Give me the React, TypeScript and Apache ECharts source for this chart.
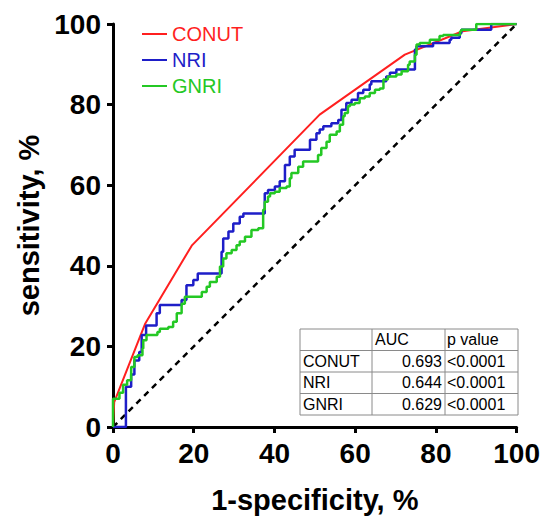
import React, { useEffect, useRef } from "react";
import * as echarts from "echarts";

const seriesNames = ["CONUT", "NRI", "GNRI"];
const seriesColors = ["#ff1f1f", "#1e1ec8", "#24c824"];

const conutPoints: [number, number][] = [
  [0, 0], [0.3, 6.2], [8, 25.7], [19.5, 45], [51.2, 77.5], [72.3, 92.4], [86.6, 98.2], [100, 100],
];

const nriPoints: [number, number][] = [
  [0, 0], [3.2, 0], [3.2, 7.6], [4.5, 10], [5.3, 13], [6.5, 16.5], [7.1, 18.6], [8.2, 22.8], [8.2, 25.2],
  [10.8, 25.2], [11.6, 28.2], [11.6, 30.3], [17, 30.3], [18.2, 31.5], [19.9, 35.2], [21, 36.5], [22.8, 38.1],
  [26.9, 38.1], [27.3, 43.5], [28.6, 46.8], [29.8, 48.5], [31.4, 50.5], [32.3, 52.2], [34.7, 53], [37.6, 53],
  [38.4, 58], [40.1, 58.8], [41.3, 59.7], [42.6, 61], [43.8, 65], [45, 67.1], [46.7, 68.8], [48.8, 68.8],
  [50.4, 71.3], [51.2, 72.9], [52.1, 73.8], [54.1, 74.6], [55.8, 75.4], [56.6, 76.2], [57.8, 78.7],
  [59.1, 80.4], [60.7, 81.2], [62, 82.9], [63.6, 83.7], [64, 85], [66.1, 85.8], [67.7, 85.8], [68.6, 87],
  [70.2, 87.9], [71.5, 88.7], [74.8, 88.7], [75.2, 93.7], [76.4, 94.5], [79.3, 94.5], [80.1, 95.3],
  [83.4, 95.3], [83.8, 96.1], [85.9, 96.6], [86.3, 97.7], [89.2, 98.6], [93.7, 98.6], [94.1, 100], [100, 100],
];

const gnriPoints: [number, number][] = [
  [0, 0], [0, 6.8], [1.6, 7], [2.5, 8.5], [3.5, 10.5], [4.5, 11.6], [5.3, 14.9], [6.1, 17.4], [7.3, 17.8],
  [7.5, 19.5], [8.3, 21.5], [9.6, 22.8], [11, 22.8], [11.6, 23.6], [13.7, 24.4], [14.9, 24.8], [15.8, 26.1],
  [17, 28.2], [17.8, 30.6], [18.2, 32.3], [22, 32.3], [23.2, 33.5], [24, 34.8], [25.7, 36], [26.5, 37.3],
  [27.3, 39.8], [28.1, 41.8], [29.4, 43.1], [30.6, 43.9], [31.4, 45.1], [32.7, 46], [34.3, 47.2], [36, 48.9],
  [37.2, 49.3], [37.6, 53.9], [38.4, 55.9], [38.9, 57.2], [40.1, 58], [41.3, 58.4], [43, 59.3], [43.8, 59.7],
  [44.2, 61.7], [45.9, 63], [47.1, 64.6], [47.5, 65.9], [50.8, 65.9], [51.6, 67.5], [52.9, 69.2],
  [53.7, 70.8], [55.4, 72.5], [56.2, 73.3], [57, 75], [57.4, 77.1], [58.2, 77.9], [58.7, 79.6], [59.9, 80],
  [61.1, 80.4], [62.4, 81.6], [63.6, 82], [64.9, 82.9], [66.1, 83.7], [67, 84], [68.1, 86.2], [70.2, 87],
  [71.5, 87.5], [73.1, 88.3], [73.5, 89.9], [74.8, 90.7], [75.2, 92.4], [76, 94.9], [76.4, 95.3],
  [78.5, 95.3], [78.9, 96.1], [80.9, 96.1], [81.8, 97], [86, 97.3], [86.3, 98.2], [90, 98.6], [90.4, 100],
  [100, 100],
];

const referencePoints: [number, number][] = [[0, 0], [100, 100]];

const axisTicks = [0, 20, 40, 60, 80, 100];
const xAxisTitle = "1-specificity, %";
const yAxisTitle = "sensitivity, %";

const tableHeader = ["", "AUC", "p value"];
const tableRows = ["CONUT", "NRI", "GNRI"];
const aucValues = ["0.693", "0.644", "0.629"];
const pValues = ["<0.0001", "<0.0001", "<0.0001"];

const FONT = "'Liberation Sans', Arial, Helvetica, sans-serif";

export default function App() {
  const ref = useRef<HTMLDivElement>(null);

  useEffect(() => {
    if (!ref.current) return;
    const chart = echarts.init(ref.current, undefined, { renderer: "svg" });

    // table layout
    const tx0 = 300, tx1 = 372, tx2 = 445, tx3 = 518;
    const ty = [329, 350.5, 372, 393.5, 415];
    const border = "#8a8a8a";
    const graphics: any[] = [
      {
        type: "rect",
        shape: { x: tx0, y: ty[0], width: tx3 - tx0, height: ty[4] - ty[0] },
        style: { fill: "#fff", stroke: border, lineWidth: 1 },
        z: 10,
      },
    ];
    [tx1, tx2].forEach((x) =>
      graphics.push({
        type: "line",
        shape: { x1: x, y1: ty[0], x2: x, y2: ty[4] },
        style: { stroke: border, lineWidth: 1 },
        z: 10,
      })
    );
    [ty[1], ty[2], ty[3]].forEach((y) =>
      graphics.push({
        type: "line",
        shape: { x1: tx0, y1: y, x2: tx3, y2: y },
        style: { stroke: border, lineWidth: 1 },
        z: 10,
      })
    );
    const tStyle = { fontFamily: FONT, fontSize: 16, fill: "#000", textVerticalAlign: "middle" };
    const mid = (i: number) => (ty[i] + ty[i + 1]) / 2;
    graphics.push({ type: "text", x: tx1 + 3, y: mid(0), style: { ...tStyle, text: tableHeader[1], textAlign: "left" }, z: 11 });
    graphics.push({ type: "text", x: tx2 + 2, y: mid(0), style: { ...tStyle, text: tableHeader[2], textAlign: "left" }, z: 11 });
    tableRows.forEach((r, i) => {
      graphics.push({ type: "text", x: tx0 + 3, y: mid(i + 1), style: { ...tStyle, text: r, textAlign: "left" }, z: 11 });
      graphics.push({ type: "text", x: tx2 - 3, y: mid(i + 1), style: { ...tStyle, text: aucValues[i], textAlign: "right" }, z: 11 });
      graphics.push({ type: "text", x: tx2 + 2, y: mid(i + 1), style: { ...tStyle, text: pValues[i], textAlign: "left" }, z: 11 });
    });

    const pointsBy: Record<string, [number, number][]> = {
      CONUT: conutPoints,
      NRI: nriPoints,
      GNRI: gnriPoints,
    };

    const axisCommon = {
      type: "value",
      min: 0,
      max: 100,
      interval: 20,
      splitLine: { show: false },
      axisLine: { show: true, lineStyle: { color: "#000", width: 3 } },
      axisTick: { show: true, length: 6, lineStyle: { color: "#000", width: 3 } },
      axisLabel: {
        color: "#000",
        fontFamily: FONT,
        fontWeight: "bold",
        fontSize: 28,
        formatter: (v: number) => (axisTicks.includes(v) ? String(v) : ""),
      },
      nameLocation: "middle",
      nameTextStyle: { color: "#000", fontFamily: FONT, fontWeight: "bold", fontSize: 29 },
    };

    chart.setOption({
      animation: false,
      backgroundColor: "#fff",
      grid: { left: 113, right: 26, top: 24, bottom: 92, containLabel: false },
      xAxis: { ...axisCommon, name: xAxisTitle, nameGap: 58, axisLabel: { ...axisCommon.axisLabel, margin: 12 } },
      yAxis: { ...axisCommon, name: yAxisTitle, nameGap: 70, axisLabel: { ...axisCommon.axisLabel, margin: 12 } },
      legend: {
        orient: "vertical",
        left: 137,
        top: 19,
        itemWidth: 25,
        itemHeight: 2,
        itemGap: 6,
        icon: "rect",
        textStyle: { fontFamily: FONT, fontSize: 20 },
        data: seriesNames.map((n, i) => ({ name: n, textStyle: { color: seriesColors[i] } })),
      },
      graphic: graphics,
      series: [
        {
          type: "line",
          name: "reference",
          data: referencePoints,
          showSymbol: false,
          silent: true,
          lineStyle: { color: "#000", width: 2.5, type: [6, 5] },
          z: 1,
        },
        ...["GNRI", "NRI", "CONUT"].map((n) => {
          const i = seriesNames.indexOf(n);
          return {
            type: "line",
            name: n,
            data: pointsBy[n],
            showSymbol: false,
            step: n === "CONUT" ? false : "start",
            color: seriesColors[i],
            lineStyle: { color: seriesColors[i], width: n === "CONUT" ? 2 : 2.5 },
            z: 2 + i,
          };
        }),
      ],
    });

    return () => chart.dispose();
  }, []);

  return (
    <div
      ref={ref}
      style={{ position: "fixed", left: 0, top: 0, width: 543, height: 519, background: "#fff" }}
    />
  );
}
